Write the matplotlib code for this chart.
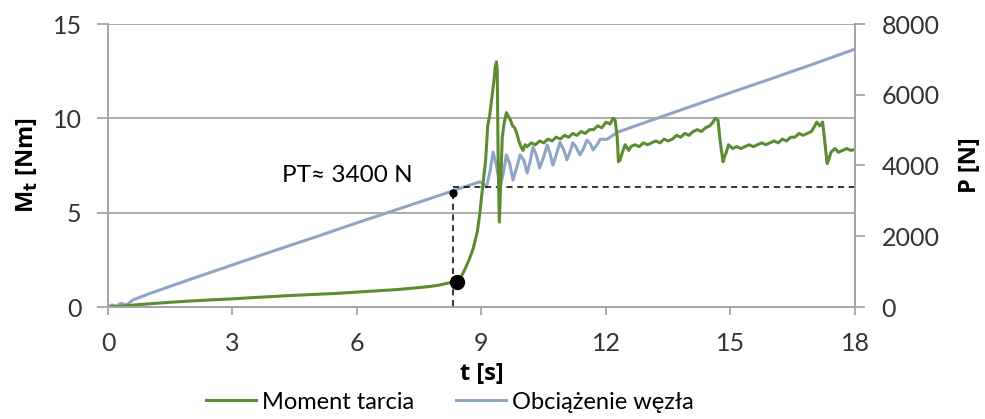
import matplotlib
matplotlib.use("Agg")
import matplotlib.pyplot as plt

# ------------------------------------------------------------
# DATA
# ------------------------------------------------------------
# Moment tarcia  Mt [Nm]
t_mt = [0.0, 0.3, 0.6, 1.0, 1.5, 2.0, 2.5, 3.0, 3.5, 4.0, 4.5, 5.0, 5.5, 6.0, 6.5, 7.0, 7.5, 7.8, 8.0, 8.2, 8.42,
        8.5, 8.6, 8.7, 8.8, 8.9, 8.95, 9.0, 9.05, 9.1, 9.15, 9.2, 9.25, 9.3, 9.33, 9.36, 9.38, 9.4, 9.43, 9.46, 9.5, 9.55, 9.6, 9.65, 9.7, 9.75, 9.8, 9.85, 9.9, 9.95, 10.0,
        10.05, 10.1, 10.2, 10.3, 10.4, 10.5, 10.6, 10.7, 10.8, 10.9, 11.0, 11.1, 11.2, 11.3, 11.4, 11.5, 11.6, 11.7, 11.8, 11.9, 12.0, 12.1, 12.17, 12.22,
        12.27, 12.3, 12.34, 12.38, 12.46, 12.55, 12.6, 12.7, 12.8, 12.9, 13.0, 13.1, 13.2, 13.3, 13.4, 13.5, 13.6, 13.7, 13.8, 13.9, 14.0, 14.1, 14.2, 14.3, 14.4, 14.5, 14.58, 14.63, 14.7,
        14.75, 14.82, 14.86, 14.9, 14.95, 15.05, 15.15, 15.25, 15.35, 15.45, 15.55, 15.65, 15.75, 15.85, 15.95, 16.05, 16.15, 16.25, 16.35, 16.45, 16.55, 16.65, 16.75, 16.85, 16.95, 17.03, 17.08, 17.15, 17.22,
        17.28, 17.33, 17.38, 17.42, 17.52, 17.6, 17.7, 17.8, 17.9, 18.0]
mt = [0.0, 0.03, 0.1, 0.17, 0.25, 0.32, 0.38, 0.43, 0.5, 0.56, 0.62, 0.67, 0.72, 0.79, 0.86, 0.93, 1.03, 1.1, 1.17, 1.27, 1.38,
      1.55, 2.0, 2.5, 3.1, 4.0, 4.8, 5.8, 6.8, 7.8, 9.6, 10.2, 11.1, 12.0, 12.7, 13.0, 12.5, 8.0, 4.5, 6.5, 9.0, 9.8, 10.3, 10.1, 9.9, 9.6, 9.5, 9.2, 8.8, 8.5, 8.3,
      8.6, 8.5, 8.7, 8.6, 8.8, 8.7, 8.9, 8.8, 9.0, 8.9, 9.1, 9.0, 9.2, 9.1, 9.3, 9.2, 9.4, 9.4, 9.6, 9.5, 9.8, 9.7, 10.0, 9.9,
      9.0, 7.7, 7.8, 8.1, 8.6, 8.3, 8.5, 8.6, 8.5, 8.7, 8.6, 8.7, 8.8, 8.7, 8.9, 8.8, 8.9, 9.1, 9.0, 9.2, 9.1, 9.3, 9.4, 9.3, 9.5, 9.6, 9.8, 10.0, 9.9,
      8.8, 7.7, 8.0, 8.2, 8.6, 8.4, 8.5, 8.4, 8.5, 8.6, 8.5, 8.6, 8.7, 8.6, 8.7, 8.8, 8.7, 8.9, 8.8, 9.0, 9.0, 9.2, 9.1, 9.2, 9.3, 9.6, 9.8, 9.6, 9.8,
      8.6, 7.6, 7.9, 8.2, 8.4, 8.2, 8.3, 8.4, 8.3, 8.35]

# Obciazenie wezla  P [N]
t_p = [0.0, 0.1, 0.2, 0.3, 0.45, 0.6, 1.0, 2.0, 3.0, 4.0, 5.0, 6.0, 7.0, 8.0, 8.5, 8.96, 9.05, 9.12, 9.2,
       9.28, 9.36, 9.45, 9.52, 9.6, 9.68, 9.76, 9.85, 9.93, 10.02, 10.1, 10.17, 10.24, 10.32, 10.4, 10.5, 10.58,
       10.65, 10.72, 10.8, 10.89, 10.98, 11.06, 11.13, 11.2, 11.28, 11.37, 11.46, 11.54, 11.62, 11.69, 11.78, 11.86,
       12.02, 12.3, 13.0, 14.0, 15.0, 16.0, 17.0, 18.0]
p = [0, 60, 20, 100, 60, 200, 380, 790, 1190, 1590, 1980, 2380, 2770, 3160, 3360, 3540, 3480, 3400, 3800,
     4380, 4000, 3400, 3750, 4300, 4050, 3590, 3950, 4300, 4150, 3790, 4100, 4520, 4300, 3930, 4250, 4580,
     4350, 4010, 4300, 4650, 4450, 4160, 4380, 4640, 4520, 4300, 4480, 4720, 4620, 4440, 4580, 4740,
     4740, 4950, 5240, 5650, 6060, 6460, 6870, 7290]

# punkt PT
t_pt = 8.32
p_pt = 3400
p_dot = 3210
t_dot = 8.42
mt_dot = 1.34

x_ticks = [0, 3, 6, 9, 12, 15, 18]
y_ticks = [0, 5, 10, 15]
p_ticks = [0, 2000, 4000, 6000, 8000]

GREEN = "#5B8C32"
BLUE = "#8FA5C5"
GRAY = "#A6A6A6"

plt.rcParams["font.family"] = ["Lato", "DejaVu Sans"]
BOLD = ["Open Sans", "DejaVu Sans"]

fig = plt.figure(figsize=(9.85, 4.19), dpi=100)
ax = fig.add_axes([108 / 985, 1 - 307 / 419, 747 / 985, 283 / 419])
ax2 = ax.twinx()
ax.set_zorder(ax2.get_zorder() + 1)
ax.patch.set_visible(False)

# ------------------------------------------------------------
# PLOTS
# ------------------------------------------------------------
lb, = ax2.plot(t_p, p, color=BLUE, lw=2.2, label="Obciążenie węzła")
lg, = ax.plot(t_mt, mt, color=GREEN, lw=2.2, label="Moment tarcia")

# PT markers
ax2.plot([t_pt, 18], [p_pt, p_pt], ls=(0, (4, 3)), color="black", lw=1.1)
ax2.plot([t_pt, t_pt], [p_dot, 0], ls=(0, (4, 3)), color="black", lw=1.1)
ax2.plot([t_pt], [p_dot], "o", color="black", ms=5)
ax.plot([t_dot], [mt_dot], "o", color="black", ms=10, zorder=5)
ax2.text(4.19, 3730, "PT≈ 3400 N", fontsize=17.5, va="center", ha="left")

# axes
ax.set_xlim(0, 18)
ax.set_ylim(0, 15)
ax2.set_ylim(0, 8000)
ax.set_xticks(x_ticks)
ax.set_yticks(y_ticks)
ax2.set_yticks(p_ticks)

ax.grid(axis="y", color=GRAY, lw=1.3)
for a in (ax, ax2):
    for s in a.spines.values():
        s.set_color(GRAY)
        s.set_linewidth(1.3)
    a.spines["top"].set_visible(False)

ax.tick_params(axis="x", direction="out", length=6, width=1.3, labelsize=18, pad=12)
ax.tick_params(axis="y", direction="out", length=8, width=1.3, labelsize=18, pad=11)
ax2.tick_params(axis="y", direction="out", length=7, width=1.3, labelsize=18, pad=12)
for a in (ax, ax2):
    a.tick_params(colors=GRAY, labelcolor="#333333")

ax.set_xlabel("t [s]", fontsize=17, fontweight="bold", family=BOLD)
ax.xaxis.set_label_coords(0.5, -0.194)
ax.set_ylabel("M$_\\mathbf{t}$ [Nm]", fontsize=17, fontweight="bold", family=BOLD)
ax.yaxis.set_label_coords(-0.091, 0.5)
ax2.set_ylabel("P [N]", fontsize=17, fontweight="bold", family=BOLD)
ax2.yaxis.set_label_coords(1.138, 0.5)

fig.legend(handles=[lg, lb], loc="center", bbox_to_anchor=(450 / 985, 1 - 402 / 419),
           ncol=2, frameon=False, fontsize=17, handlelength=2.1,
           handletextpad=0.25, columnspacing=1.8)

plt.savefig("out.png", dpi=100)
